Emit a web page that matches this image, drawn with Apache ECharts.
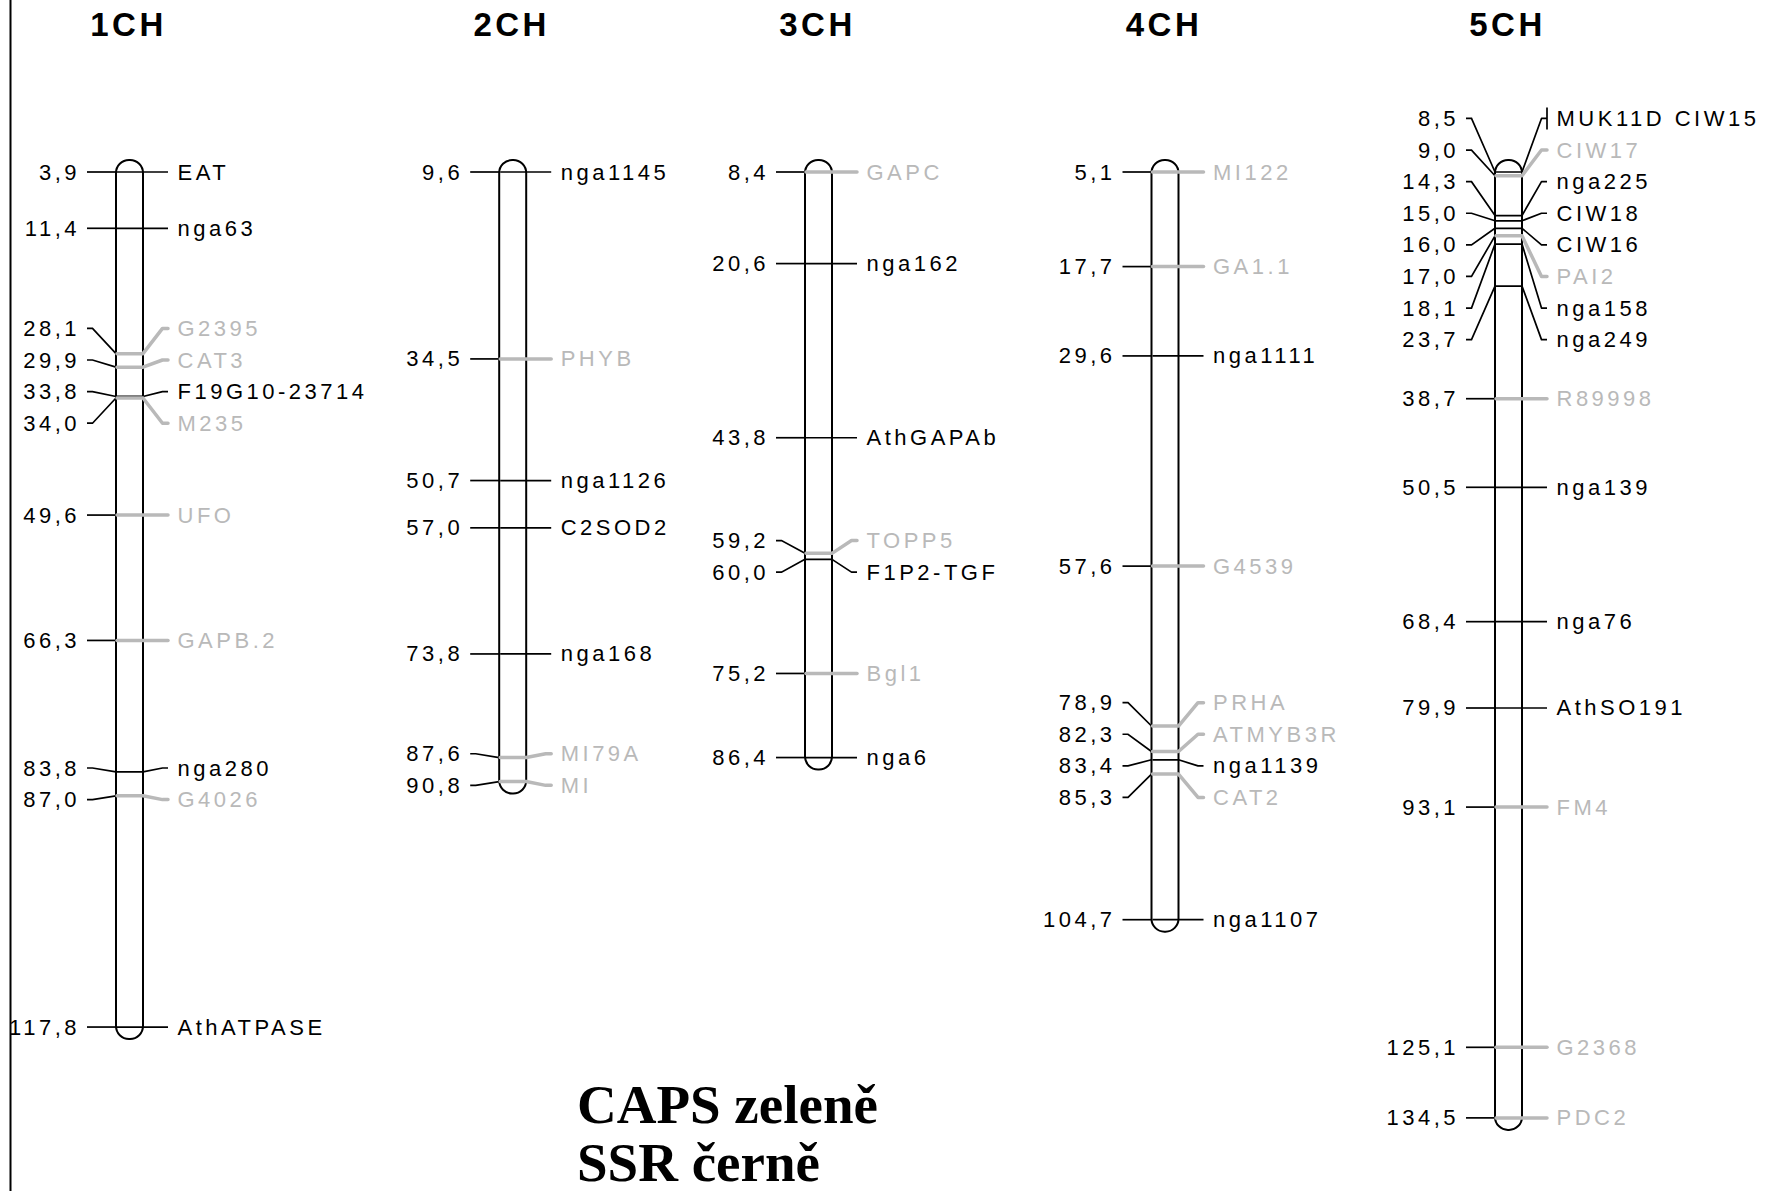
<!DOCTYPE html>
<html>
<head>
<meta charset="utf-8">
<title>Genetic map</title>
<script src="https://cdn.jsdelivr.net/npm/echarts@6/dist/echarts.min.js"></script>
<style>
  html, body { margin: 0; padding: 0; background: #fff; }
  #chart { width: 1774px; height: 1191px; }
  /* the original labels are letter-spaced */
  #chart text { letter-spacing: 3.5px; }
  #chart text[style*="Serif"] { letter-spacing: 0; }
</style>
</head>
<body>
<div id="chart"></div>
<script>
const chromosomes = ['1CH', '2CH', '3CH', '4CH', '5CH'];

// positions (cM), marker names, 1 = CAPS (grey), 0 = SSR (black)
const ch1Pos = [3.9, 11.4, 28.1, 29.9, 33.8, 34.0, 49.6, 66.3, 83.8, 87.0, 117.8];
const ch1Names = ['EAT', 'nga63', 'G2395', 'CAT3', 'F19G10-23714', 'M235', 'UFO', 'GAPB.2', 'nga280', 'G4026', 'AthATPASE'];
const ch1Caps = [0, 0, 1, 1, 0, 1, 1, 1, 0, 1, 0];

const ch2Pos = [9.6, 34.5, 50.7, 57.0, 73.8, 87.6, 90.8];
const ch2Names = ['nga1145', 'PHYB', 'nga1126', 'C2SOD2', 'nga168', 'MI79A', 'MI'];
const ch2Caps = [0, 1, 0, 0, 0, 1, 1];

const ch3Pos = [8.4, 20.6, 43.8, 59.2, 60.0, 75.2, 86.4];
const ch3Names = ['GAPC', 'nga162', 'AthGAPAb', 'TOPP5', 'F1P2-TGF', 'Bgl1', 'nga6'];
const ch3Caps = [1, 0, 0, 1, 0, 1, 0];

const ch4Pos = [5.1, 17.7, 29.6, 57.6, 78.9, 82.3, 83.4, 85.3, 104.7];
const ch4Names = ['MI122', 'GA1.1', 'nga1111', 'G4539', 'PRHA', 'ATMYB3R', 'nga1139', 'CAT2', 'nga1107'];
const ch4Caps = [1, 1, 0, 1, 1, 1, 0, 1, 0];

const ch5Pos = [8.5, 9.0, 14.3, 15.0, 16.0, 17.0, 18.1, 23.7, 38.7, 50.5, 68.4, 79.9, 93.1, 125.1, 134.5];
const ch5Names = ['MUK11D CIW15', 'CIW17', 'nga225', 'CIW18', 'CIW16', 'PAI2', 'nga158', 'nga249', 'R89998', 'nga139', 'nga76', 'AthSO191', 'FM4', 'G2368', 'PDC2'];
const ch5Caps = [0, 1, 0, 0, 0, 1, 0, 0, 1, 0, 0, 0, 1, 1, 1];

const legendLines = ['CAPS zeleně', 'SSR černě'];

const maps = [
  { pos: ch1Pos, names: ch1Names, caps: ch1Caps },
  { pos: ch2Pos, names: ch2Names, caps: ch2Caps },
  { pos: ch3Pos, names: ch3Names, caps: ch3Caps },
  { pos: ch4Pos, names: ch4Names, caps: ch4Caps },
  { pos: ch5Pos, names: ch5Names, caps: ch5Caps }
];

// layout
const centers = [129.5, 512.7, 818.5, 1165, 1508.5];
const TOP = 172;
const PX_PER_CM = 7.507;
const HALF_W = 13.5;
const LABEL_GAP_PX = 31.6;
const GREY = '#b9b9b9';
const BLACK = '#000';
const SANS = 'Liberation Sans';

const fmt = v => v.toFixed(1).replace('.', ',');

// spread labels apart; a crowded group is centred on the middle of its marker span
function spreadLabels(positions, gap) {
  let groups = positions.map((p, i) => ({ lo: i, n: 1, top: p }));
  let merged = true;
  while (merged) {
    merged = false;
    for (let k = 0; k < groups.length - 1; k++) {
      const a = groups[k], b = groups[k + 1];
      if (b.top - (a.top + (a.n - 1) * gap) < gap) {
        const n = a.n + b.n;
        const mid = (positions[a.lo] + positions[a.lo + n - 1]) / 2;
        groups.splice(k, 2, { lo: a.lo, n, top: mid - (n - 1) * gap / 2 });
        merged = true;
        break;
      }
    }
  }
  const out = [];
  groups.forEach(g => { for (let j = 0; j < g.n; j++) out.push(g.top + j * gap); });
  return out;
}

function textEl(x, y, text, align, fill, size, weight) {
  return {
    type: 'text',
    x, y,
    style: {
      text, fill,
      fontSize: size, fontFamily: SANS, fontWeight: weight || 'normal',
      align, verticalAlign: 'middle',
      textAlign: align, textVerticalAlign: 'middle'
    }
  };
}

const grids = [], xAxes = [], yAxes = [], series = [];

maps.forEach((m, i) => {
  const first = m.pos[0], last = m.pos[m.pos.length - 1];
  const labels = spreadLabels(m.pos, LABEL_GAP_PX / PX_PER_CM);

  grids.push({
    left: centers[i] - HALF_W, width: HALF_W * 2,
    top: TOP, height: (last - first) * PX_PER_CM
  });
  xAxes.push({ type: 'value', gridIndex: i, min: 0, max: 1, show: false });
  yAxes.push({ type: 'value', gridIndex: i, min: first, max: last, inverse: true, show: false });

  series.push({
    type: 'custom', name: chromosomes[i] + ' body',
    xAxisIndex: i, yAxisIndex: i, silent: true, z: 1,
    data: [[first, last]],
    renderItem: (params, api) => {
      const a = api.coord([0, api.value(0)]);
      const b = api.coord([1, api.value(1)]);
      return {
        type: 'rect',
        shape: { x: a[0], y: a[1] - 12, width: b[0] - a[0], height: b[1] - a[1] + 24, r: 13 },
        style: { fill: '#fff', stroke: BLACK, lineWidth: 2 }
      };
    }
  });

  series.push({
    type: 'custom', name: chromosomes[i],
    xAxisIndex: i, yAxisIndex: i, silent: true, z: 2,
    data: m.pos.map((p, k) => [p, labels[k], m.caps[k]]),
    renderItem: (params, api) => {
      const pos = api.value(0), lab = api.value(1), caps = api.value(2);
      const name = m.names[params.dataIndex];
      const [xl, ym] = api.coord([0, pos]);
      const xr = api.coord([1, pos])[0];
      const yl = api.coord([0, lab])[1];
      const cx = (xl + xr) / 2;
      const col = caps ? GREY : BLACK;
      const lw = caps ? 3.5 : 1.7;
      const children = [
        textEl(cx - 49.5, yl, fmt(pos), 'right', BLACK, 22),
        {
          type: 'polyline',
          shape: { points: [[cx - 42.5, yl], [cx - 37, yl], [xl, ym]] },
          style: { stroke: BLACK, lineWidth: 1.7, fill: null }
        },
        {
          type: 'polyline',
          shape: { points: [[xl + 1, ym], [xr, ym], [cx + 33, yl], [cx + 38.5, yl]] },
          style: { stroke: col, lineWidth: lw, fill: null, lineCap: caps ? 'round' : 'butt', lineJoin: 'round' }
        },
        textEl(cx + 48, yl, name, 'left', col, 22)
      ];
      if (name.indexOf(' ') > 0) {
        children.push({
          type: 'line',
          shape: { x1: cx + 38.5, y1: yl - 11, x2: cx + 38.5, y2: yl + 11 },
          style: { stroke: BLACK, lineWidth: 1.7 }
        });
      }
      return { type: 'group', children };
    }
  });
});

const graphics = [
  { type: 'line', shape: { x1: 10.5, y1: 0, x2: 10.5, y2: 1191 }, style: { stroke: BLACK, lineWidth: 2 } }
];
chromosomes.forEach((c, i) => graphics.push(textEl(centers[i] - 1, 24, c, 'center', BLACK, 33, 'bold')));
legendLines.forEach((t, k) => graphics.push({
  type: 'text', x: 577, y: 1104 + k * 58,
  style: {
    text: t, fill: BLACK, fontSize: 55, fontFamily: 'Liberation Serif', fontWeight: 'bold',
    align: 'left', verticalAlign: 'middle', textAlign: 'left', textVerticalAlign: 'middle'
  }
}));

const chart = echarts.init(document.getElementById('chart'), null, { renderer: 'svg' });
chart.setOption({
  animation: false,
  backgroundColor: '#fff',
  grid: grids,
  xAxis: xAxes,
  yAxis: yAxes,
  graphic: graphics,
  series
});
</script>
</body>
</html>
